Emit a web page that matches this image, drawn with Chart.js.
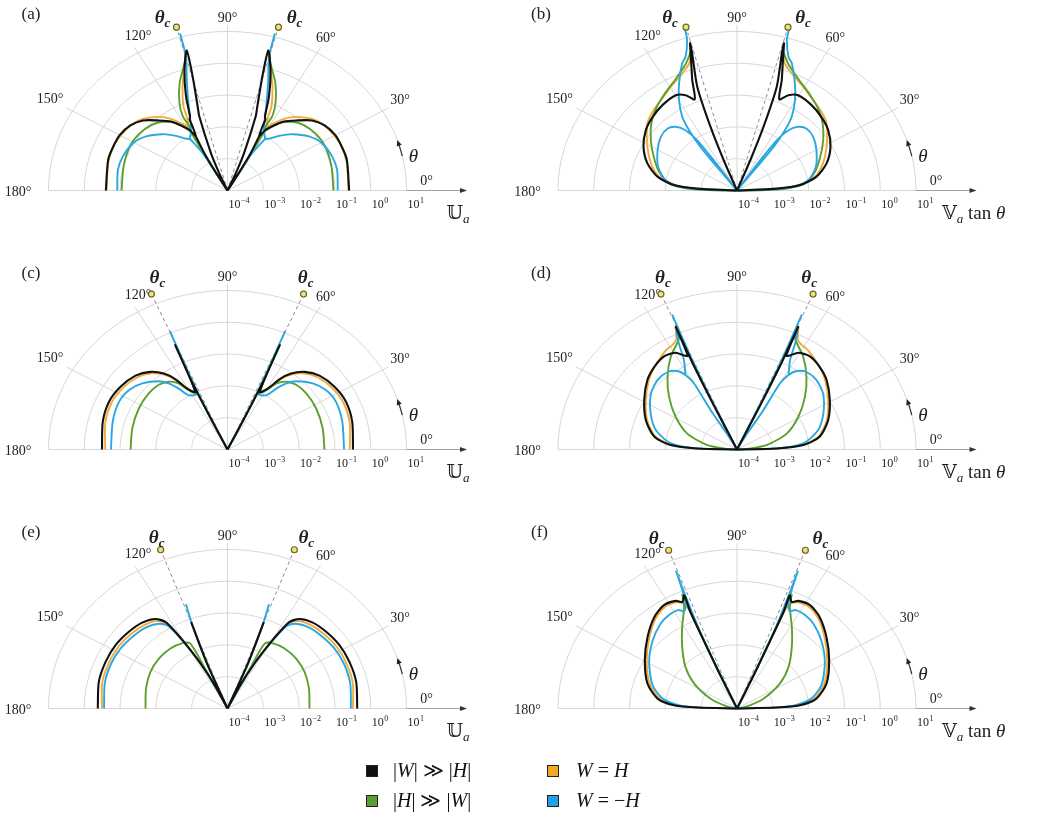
<!DOCTYPE html>
<html>
<head>
<meta charset="utf-8">
<title>Polar log plots</title>
<script src="https://cdn.jsdelivr.net/npm/chart.js@4.4.1/dist/chart.umd.min.js"></script>
<style>
  html, body { margin: 0; padding: 0; background: #fff; }
  body { position: relative; width: 1047px; height: 817px; overflow: hidden; font-family: "Liberation Serif", "DejaVu Serif", serif; }
  canvas { position: absolute; }
  .sq { position: absolute; width: 10px; height: 10px; border: 1px solid #222; }
  .lg { position: absolute; font-size: 20px; line-height: 24px; white-space: nowrap; color: #111; }
</style>
</head>
<body>
<canvas id="pa" width="500" height="259" style="left:0px;top:0px"></canvas>
<canvas id="pb" width="547" height="259" style="left:500px;top:0px"></canvas>
<canvas id="pc" width="500" height="259" style="left:0px;top:259px"></canvas>
<canvas id="pd" width="547" height="259" style="left:500px;top:259px"></canvas>
<canvas id="pe" width="500" height="259" style="left:0px;top:518px"></canvas>
<canvas id="pf" width="547" height="259" style="left:500px;top:518px"></canvas>

<div class="sq" style="left:366px;top:765px;background:#111"></div>
<div class="lg" style="left:393px;top:758px">|<i>W</i>| &#8811; |<i>H</i>|</div>
<div class="sq" style="left:366px;top:795px;background:#5c9f2e"></div>
<div class="lg" style="left:393px;top:788px">|<i>H</i>| &#8811; |<i>W</i>|</div>
<div class="sq" style="left:547px;top:765px;background:#f5a623"></div>
<div class="lg" style="left:576px;top:758px"><i>W</i> = <i>H</i></div>
<div class="sq" style="left:547px;top:795px;background:#1fa3e6"></div>
<div class="lg" style="left:576px;top:788px"><i>W</i> = &minus;<i>H</i></div>

<script>
// right half of every curve as [theta in degrees, value]; null breaks the line.
// the left half is the mirror image (theta -> 180 - theta).

// (a) U_a
const aBlack = [[0,2.5e-1],[16,2.95e-1],[23,3.0e-1],[30,3.0e-1],[37,2.5e-1],[43,1.7e-1],[49,8.3e-2],[54,4.8e-2],[58,2.45e-2],[61,1.5e-2],[62.6,8.1e-3],[64,1.6e-2],[64.7,3.0e-2],[65.8,3.55e-2],[68.6,1.5e-1],[72.4,9.5e-1],[75.5,3.5],[74.8,5.1e-1],[72.5,5.9e-2],[71.3,2.9e-2],[68.5,1.8e-3],[67,4.0e-4],[67,1e-4],
  null,[62.6,8.1e-3],[61,2.0e-3],[60,4.0e-4],[60,1e-4]];
const aBlue = [[75,1.3e1],[74.9,6.3],[74.6,2.3],[71.9,4.6e-1],[67.7,7.1e-2],[63.1,1.8e-2],[58,9.3e-3],[56,8.9e-3],[50,1.74e-2],[44.4,3.4e-2],[36.8,6.9e-2],[29.4,1.07e-1],[20,1.3e-1],[12,1.35e-1],[0,1.2e-1],
  null,[57,9.1e-3],[59.5,2.3e-3],[59.8,4.3e-4],[60,1e-4]];
const aGreen = [[0,9.1e-2],[14.5,1.0e-1],[27,1.15e-1],[36,1.1e-1],[44,9.1e-2],[50,6.6e-2],[56,3.6e-2],[59.4,1.9e-2],[61,1.26e-2],[62.2,1.9e-2],[61.8,4.4e-2],[64,1.15e-1],[68.4,4.3e-1],[73.3,1.5],[75,3.2],
  null,[61,1.26e-2],[60,1.0e-3],[60,1e-4]];
const aOrange = [[0,2.4e-1],[15,2.8e-1],[25,2.95e-1],[35,2.6e-1],[43,1.9e-1],[50.5,1.0e-1],[55,5.6e-2],[59,2.8e-2],[61.5,2.0e-2],[64,4.0e-2],[65,8.1e-2],[69,3.2e-1],[73,1.2],[74.7,3.0],
  null,[61.5,2.0e-2],[60,1.6e-3],[60,1e-4]];

// (b) V_a tan(theta)
const bBlack = [[0,1e-4],[3.1,1.3e-3],[5.5,5.9e-3],[11,1.8e-2],[18.8,4.4e-2],[27.7,8.9e-2],[36.7,1.5e-1],[44.5,2.0e-1],[52.2,2.5e-1],[60.3,2.8e-1],[64.4,2.1e-1],[67.6,1.26e-1],[70.2,4.9e-1],[72.3,1.6],[74.2,6.6],[73.8,3.1],[71.2,2.75e-1],[69.7,1.35e-2],[68.7,1.05e-3],[69,1e-4]];
const bBlue = [[74,1.8e1],[73.6,8.5],[71.1,2.75],[69,1.9],[64.3,5.4e-1],[60.3,1.86e-1],[56.6,6.0e-2],[54.8,2.1e-2],[53.3,5.1e-3],[53,8.5e-4],[53,1e-4],
  null,[0,1e-4],[1.8,8.5e-4],[4.3,3.8e-3],[9.2,1.05e-2],[18.6,2.1e-2],[29.8,3.6e-2],[38.4,5.2e-2],[45.2,5.6e-2],[49.5,4.3e-2],[52.8,2.4e-2],[54.9,8.5e-3],[55.6,1.4e-3],[56,1e-4]];
const bGreen = [[0,1e-4],[0.5,4.5e-4],[2.5,2.5e-3],[6.6,8.1e-3],[15.1,1.8e-2],[24.5,3.6e-2],[33.3,7.6e-2],[41.4,1.55e-1],[48.7,2.7e-1],[55.8,4.3e-1],[64.1,8.1e-1],[70.2,1.7],[74,4.0]];
const bOrange = [[0,1e-4],[2.2,1.05e-3],[5.6,5.2e-3],[11.2,1.66e-2],[19.4,3.5e-2],[28.7,7.1e-2],[40,1.86e-1],[46.3,2.6e-1],[53.1,3.5e-1],[60.4,5.6e-1],[66.6,8.9e-1],[71.4,1.6],[74,4.0]];

// (c) U_a
const cBlack = [[0,3.2e-1],[14,3.9e-1],[24.4,4.3e-1],[33.4,3.8e-1],[42.1,2.9e-1],[48.6,1.8e-1],[53.3,9.5e-2],[56.6,4.5e-2],[59.5,1.7e-2],[63.6,1.05e-2],[66,3.9e-1],[65,2.5e-2],[64.5,1.6e-3],[64,1e-4]];
const cBlue = [[0,1.8e-1],[15.1,2.1e-1],[26.3,2.4e-1],[34.2,2.1e-1],[41.1,1.45e-1],[48.2,7.6e-2],[51.7,4.5e-2],[54.5,2.3e-2],[57.5,1.07e-2],[63.5,8.9e-3],[66.6,1.07],[65.5,3.2e-2],[64.5,1.6e-3],[64,1e-4]];
const cGreen = [[0,5.1e-2],[13.9,5.5e-2],[27.5,6.2e-2],[38.7,6.6e-2],[46.7,6.3e-2],[52.4,4.9e-2],[56.6,3.1e-2],[59.8,1.45e-2],[63.5,1.0e-2],[66,2.0e-1],[65,1.6e-2],[64.5,1.26e-3],[64,1e-4]];
const cOrange = [[0,2.6e-1],[14,3.3e-1],[24.4,3.6e-1],[33.4,3.2e-1],[42.1,2.45e-1],[48.6,1.55e-1],[53.3,8.5e-2],[56.6,4.0e-2],[59.5,1.6e-2],[63.5,1.0e-2],[66.2,2.8e-1],[65,2.0e-2],[64.5,1.26e-3],[64,1e-4]];

// (d) V_a tan(theta)
const dBlack = [[0,1e-4],[1.6,1.3e-3],[4.3,7.2e-3],[9.8,2.2e-2],[19.9,5.1e-2],[30.9,1.05e-1],[41.1,2.1e-1],[48.4,3.0e-1],[55.2,3.7e-1],[60.6,3.1e-1],[63.5,2.0e-1],[65,1.8e-1],[66.1,1.66],[65.5,1.0e-1],[65,3.2e-3],[65,1e-4]];
const dBlue = [[66.9,4.1],[66,1.0e-1],[65.5,3.2e-3],[65,1e-4],
  null,[0,1e-4],[1.6,1.3e-3],[5.9,7.2e-3],[15,2.2e-2],[25.1,4.6e-2],[36.1,9.5e-2],[44.5,1.3e-1],[51.5,1.3e-1],[56,9.5e-2],[58.4,5.6e-2],[60,2.5e-2],[59.2,2.75e-3],[60.5,3.7e-4],[61,1e-4],
  null,[58.4,5.6e-2],[62.2,1.5e-1],[64,5.0e-1],[65.5,1.26]];
const dGreen = [[0,1e-4],[4,1.9e-4],[9.6,6.9e-4],[19.8,3.0e-3],[31,1.0e-2],[41.1,3.3e-2],[49.7,1.0e-1],[57.5,2.8e-1],[65.1,7.1e-1],[66,1.26],[65.5,1.0e-1],[65,3.2e-3],[65,1e-4]];
const dOrange = [[0,1e-4],[1.6,1.1e-3],[4.3,6.3e-3],[9.8,2.0e-2],[19.9,4.6e-2],[30.9,9.3e-2],[41.1,1.9e-1],[48.4,3.0e-1],[53,3.8e-1],[57.5,5.0e-1],[61.1,5.6e-1],[63.9,7.1e-1],[66,1.6],[65.5,1.0e-1],[65,3.2e-3],[65,1e-4]];

// (e) U_a
const eBlack = [[0,4.2e-1],[13,4.9e-1],[23.4,5.1e-1],[32.5,5.1e-1],[41.2,4.6e-1],[48.6,4.0e-1],[54.4,2.9e-1],[57.5,1.7e-1],[58.8,6.6e-2],[60,2.3e-2],[62,4.0e-3],[64,6.3e-4],[65,1e-4],
  null,[66,1e-4],[68,3.2e-3],[69.5,7.9e-2]];
const eBlue = [[0,2.8e-1],[13,3.3e-1],[23.4,3.5e-1],[32.5,3.4e-1],[41.2,3.0e-1],[48.6,2.6e-1],[54.4,1.9e-1],[57.5,1.2e-1],[58.8,5.2e-2],[60,1.9e-2],[62,4.0e-3],[64,6.3e-4],[65,1e-4],
  null,[66,1e-4],[68,3.2e-3],[69.5,6.3e-2],[70.5,3.0e-1]];
const eGreen = [[0,1.95e-2],[15.5,2.3e-2],[28.1,2.75e-2],[39.3,3.0e-2],[49.8,2.95e-2],[58.1,2.6e-2],[63,1.95e-2],[63.5,3.2e-3],[64,5.0e-4],[64,1e-4]];
const eOrange = [[0,3.2e-1],[13,3.9e-1],[23.4,4.1e-1],[32.5,4.1e-1],[41.2,3.7e-1],[48.6,3.2e-1],[54.4,2.4e-1],[57.5,1.45e-1],[58.8,5.9e-2],[60,2.1e-2],[62,4.0e-3],[64,6.3e-4],[65,1e-4],
  null,[66,1e-4],[68,3.2e-3],[69.5,5.0e-2]];

// (f) V_a tan(theta)
const fBlack = [[0,1e-4],[1.5,1.3e-3],[3.3,5.8e-3],[8,1.74e-2],[17.5,4.2e-2],[30.6,9.8e-2],[42,2.3e-1],[51.3,4.9e-1],[57.9,6.9e-1],[63.2,6.2e-1],[65.5,4.8e-1],[67.5,7.1e-1],[66.8,2.0e-1],[66.5,1.6e-2],[66,1.6e-3],[66,1e-4]];
const fBlue = [[0,1e-4],[1.5,1.0e-3],[3.5,4.0e-3],[8.5,1.26e-2],[17.5,3.0e-2],[30.6,7.1e-2],[42,1.5e-1],[51.3,2.6e-1],[57.5,3.2e-1],[62,3.2e-1],[64.5,2.5e-1],[67,5.0e-1],[68.5,4.3],[68,1.0],[67,6.3e-2],[66.5,3.2e-3],[66,1e-4]];
const fGreen = [[0,1e-4],[14,1.95e-4],[22.7,6.3e-4],[33.4,2.75e-3],[42.3,8.9e-3],[51.7,2.95e-2],[59.2,9.8e-2],[65.2,3.3e-1],[67,7.9e-1],[66.8,2.0e-1],[66.5,1.6e-2],[66,1.6e-3],[66,1e-4]];
const fOrange = [[0,1e-4],[1.5,1.1e-3],[3.3,5.0e-3],[8,1.5e-2],[17.5,3.6e-2],[30.6,8.5e-2],[42,2.0e-1],[51.3,4.3e-1],[57.9,6.0e-1],[63.2,5.5e-1],[65.5,4.2e-1],[66.8,2.0e-1],[66.5,1.6e-2],[66,1.6e-3],[66,1e-4]];

// critical angles (degrees) per panel
const thetaC = [74.5, 74.5, 66.5, 66.5, 69.5, 69];

// radial ticks and angle ticks
const radialTicks = [1e-4, 1e-3, 1e-2, 1e-1, 1e0, 1e1];
const tickExp = ['\u22124', '\u22123', '\u22122', '\u22121', '0', '1'];
const angleTicks = [0, 30, 60, 90, 120, 150, 180];

const seriesNames = ['|W| \u226B |H|', 'W = \u2212H', '|H| \u226B |W|', 'W = H'];
const colors = ['#111111', '#2aa7e1', '#5c9f2e', '#f2aa3a'];

const RAD = Math.PI / 180;
const SX = 35.8, SY = 31.8;   // px per decade, horizontal / vertical
const CY = 190.5;
const FONT = '"Liberation Serif", "DejaVu Serif", serif';
const R0 = Math.log10(radialTicks[0]);

// where the angle labels sit: [angle, label angle, label radius in decades]
const angleLabelPos = [[0, 2.9, 5.57], [30, 30.6, 5.6], [60, 60.2, 5.53], [90, 90, 5.42], [120, 117.2, 5.46], [150, 150.1, 5.72], [180, 180.5, 5.85]];

function toXY(theta, r) {
  const d = Math.max(0, Math.log10(r) - R0);
  return { x: d * Math.cos(theta * RAD), y: d * Math.sin(theta * RAD) };
}

function bothHalves(half) {
  const right = half.map(p => p ? toXY(p[0], p[1]) : { x: null, y: null });
  const left = half.map(p => p ? toXY(180 - p[0], p[1]) : { x: null, y: null });
  return right.concat([{ x: null, y: null }], left);
}

function seg(ctx, a, b) {
  ctx.beginPath(); ctx.moveTo(a[0], a[1]); ctx.lineTo(b[0], b[1]); ctx.stroke();
}

function head(ctx, tip, ux, uy, len, half) {
  ctx.beginPath();
  ctx.moveTo(tip[0], tip[1]);
  ctx.lineTo(tip[0] - ux * len - uy * half, tip[1] - uy * len + ux * half);
  ctx.lineTo(tip[0] - ux * len + uy * half, tip[1] - uy * len - ux * half);
  ctx.closePath(); ctx.fill();
}

const polarFrame = {
  id: 'polarFrame',
  beforeDatasetsDraw(chart, args, o) {
    const ctx = chart.ctx;
    const xs = chart.scales.x, ys = chart.scales.y;
    const P = (t, d) => [xs.getPixelForValue(d * Math.cos(t * RAD)), ys.getPixelForValue(d * Math.sin(t * RAD))];
    const outer = radialTicks.length - 1;
    ctx.save();
    ctx.lineWidth = 1;
    ctx.strokeStyle = '#d6d6d6';
    for (let d = 1; d <= outer; d++) {
      ctx.beginPath();
      for (let t = 0; t <= 180; t += 1.5) {
        const q = P(t, d);
        if (t === 0) ctx.moveTo(q[0], q[1]); else ctx.lineTo(q[0], q[1]);
      }
      ctx.stroke();
    }
    angleTicks.slice(1, -1).forEach(t => seg(ctx, P(t, 0), P(t, 5.2)));
    seg(ctx, P(180, outer), P(0, outer));
    ctx.strokeStyle = '#a0a0a0';
    seg(ctx, P(0, outer), P(0, 6.6));
    ctx.fillStyle = '#333';
    head(ctx, P(0, 6.69), 1, 0, 7, 2.6);
    // critical-angle guides
    ctx.setLineDash([3.5, 3]);
    ctx.strokeStyle = '#8a8a8a';
    seg(ctx, P(o.thetaC, 0), P(o.thetaC, 5.15));
    seg(ctx, P(180 - o.thetaC, 0), P(180 - o.thetaC, 5.15));
    ctx.restore();
  },
  afterDatasetsDraw(chart, args, o) {
    const ctx = chart.ctx;
    const xs = chart.scales.x, ys = chart.scales.y;
    const P = (t, d) => [xs.getPixelForValue(d * Math.cos(t * RAD)), ys.getPixelForValue(d * Math.sin(t * RAD))];
    const c = P(0, 0);
    ctx.save();
    ctx.fillStyle = '#222';

    // angle labels
    ctx.font = '14px ' + FONT;
    ctx.textAlign = 'center'; ctx.textBaseline = 'middle';
    angleLabelPos.forEach(([a, t, d]) => { const q = P(t, d); ctx.fillText(a + '\u00B0', q[0], q[1]); });

    // radial tick labels 10^k
    ctx.textAlign = 'left'; ctx.textBaseline = 'alphabetic';
    radialTicks.forEach((v, k) => {
      const q = P(0, Math.log10(v) - R0);
      ctx.font = '12px ' + FONT;
      ctx.fillText('10', q[0] + 1, c[1] + 17);
      const w = ctx.measureText('10').width;
      ctx.font = '8px ' + FONT;
      ctx.fillText(tickExp[k], q[0] + 1.5 + w, c[1] + 12);
    });

    // theta_c markers and labels
    [[o.thetaC, o.tcOff[1]], [180 - o.thetaC, o.tcOff[0]]].forEach(([t, dx]) => {
      const m = P(t, 5.33);
      ctx.beginPath(); ctx.arc(m[0], m[1], 3, 0, 2 * Math.PI);
      ctx.fillStyle = '#eee27a'; ctx.fill();
      ctx.lineWidth = 1.2; ctx.strokeStyle = '#6b6620'; ctx.stroke();
      ctx.fillStyle = '#222';
      ctx.font = 'italic bold 19px ' + FONT;
      const w1 = ctx.measureText('\u03B8').width;
      ctx.font = 'italic bold 13px ' + FONT;
      const w2 = ctx.measureText('c').width;
      const sx = m[0] + dx - (w1 + w2) / 2, by = m[1] + o.tcOff[2] + 6;
      ctx.font = 'italic bold 19px ' + FONT;
      ctx.fillText('\u03B8', sx, by);
      ctx.font = 'italic bold 13px ' + FONT;
      ctx.fillText('c', sx + w1, by + 4);
    });

    // theta direction arrow on the outer ring
    ctx.strokeStyle = '#333'; ctx.lineWidth = 1.2; ctx.fillStyle = '#222';
    ctx.beginPath();
    for (let t = 12.5; t <= 17; t += 0.5) { const q = P(t, 5); if (t === 12.5) ctx.moveTo(q[0], q[1]); else ctx.lineTo(q[0], q[1]); }
    ctx.stroke();
    const a0 = P(16.5, 5), a1 = P(18.5, 5);
    const L = Math.hypot(a1[0] - a0[0], a1[1] - a0[1]);
    head(ctx, a1, (a1[0] - a0[0]) / L, (a1[1] - a0[1]) / L, 6, 2.6);
    ctx.font = 'italic 19px ' + FONT;
    ctx.textAlign = 'center'; ctx.textBaseline = 'middle';
    const tl = P(11.5, 5.3);
    ctx.fillText('\u03B8', tl[0], tl[1]);

    // panel tag
    ctx.textAlign = 'left'; ctx.textBaseline = 'alphabetic';
    ctx.font = '17px ' + FONT;
    ctx.fillText(o.tag, c[0] - 206, c[1] - 172);

    // axis label
    ctx.font = '19px "DejaVu Serif", "DejaVu Sans", serif';
    const lx = c[0] + (o.axis === 'U' ? 219 : 205), ly = c[1] + 28;
    const glyph = o.axis === 'U' ? '\u{1D54C}' : '\u{1D54D}';
    ctx.fillText(glyph, lx, ly);
    let w = ctx.measureText(glyph).width;
    ctx.font = 'italic 13px ' + FONT;
    ctx.fillText('a', lx + w, ly + 4);
    w += ctx.measureText('a').width;
    if (o.axis === 'V') {
      ctx.font = '19px ' + FONT;
      ctx.fillText(' tan ', lx + w, ly);
      w += ctx.measureText(' tan ').width;
      ctx.font = 'italic 19px ' + FONT;
      ctx.fillText('\u03B8', lx + w, ly);
    }
    ctx.restore();
  }
};

const panels = [
  { id: 'pa', tag: '(a)', axis: 'U', right: false, series: [aBlack, aBlue, aGreen, aOrange], tcOff: [-14, 16, -10] },
  { id: 'pb', tag: '(b)', axis: 'V', right: true, series: [bBlack, bBlue, bGreen, bOrange], tcOff: [-16, 15, -10] },
  { id: 'pc', tag: '(c)', axis: 'U', right: false, series: [cBlack, cBlue, cGreen, cOrange], tcOff: [6, 2, -17] },
  { id: 'pd', tag: '(d)', axis: 'V', right: true, series: [dBlack, dBlue, dGreen, dOrange], tcOff: [2, -4, -17] },
  { id: 'pe', tag: '(e)', axis: 'U', right: false, series: [eBlack, eBlue, eGreen, eOrange], tcOff: [-4, 12, -13] },
  { id: 'pf', tag: '(f)', axis: 'V', right: true, series: [fBlack, fBlue, fGreen, fOrange], tcOff: [-12, 15, -12] }
];

panels.forEach((p, n) => {
  const canvas = document.getElementById(p.id);
  const cx = p.right ? 237 : 227.5;
  const W = canvas.width, H = canvas.height;
  new Chart(canvas, {
    type: 'scatter',
    data: {
      datasets: p.series.map((s, i) => ({
        label: seriesNames[i],
        data: bothHalves(s),
        showLine: true,
        borderColor: colors[i],
        borderWidth: i === 0 ? 2.1 : 1.9,
        pointRadius: 0,
        tension: 0.25
      }))
    },
    options: {
      responsive: false,
      animation: false,
      events: [],
      layout: { padding: 0 },
      scales: {
        x: { type: 'linear', display: false, min: -cx / SX, max: (W - cx) / SX },
        y: { type: 'linear', display: false, min: -(H - CY) / SY, max: CY / SY }
      },
      plugins: {
        legend: { display: false },
        tooltip: { enabled: false },
        polarFrame: { thetaC: thetaC[n], tag: p.tag, axis: p.axis, tcOff: p.tcOff }
      }
    },
    plugins: [polarFrame]
  });
});
</script>
</body>
</html>
